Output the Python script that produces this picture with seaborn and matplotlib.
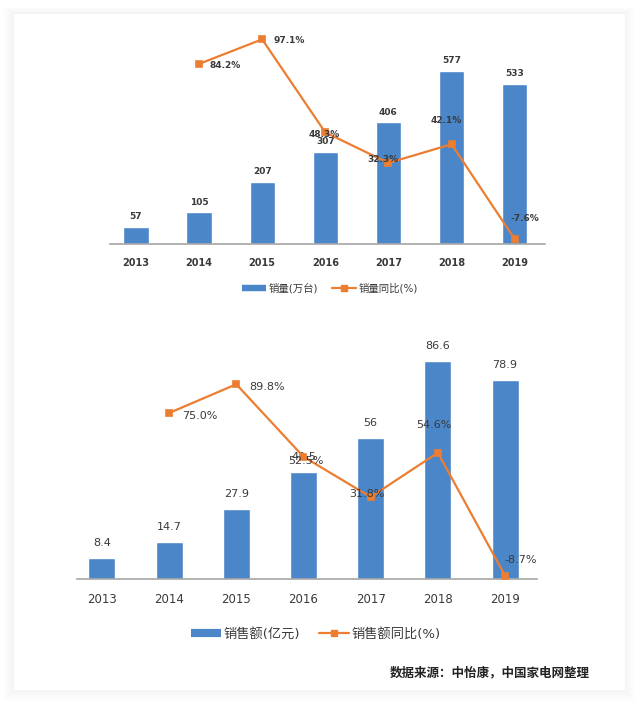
import matplotlib
matplotlib.use("Agg")
import matplotlib.pyplot as plt
import seaborn as sns
import pandas as pd
from matplotlib.lines import Line2D
from matplotlib.patches import Rectangle

# data
years = ["2013", "2014", "2015", "2016", "2017", "2018", "2019"]
volume = [57, 105, 207, 307, 406, 577, 533]
volume_yoy = [84.2, 97.1, 48.3, 32.3, 42.1, -7.6]
sales = [8.4, 14.7, 27.9, 42.5, 56, 86.6, 78.9]
sales_yoy = [75.0, 89.8, 52.5, 31.8, 54.6, -8.7]

# offsets (px) of the percent labels from their markers
volume_lbl_off = [(10, -2, "left"), (11, -1, "left"), (-1, -2, "center"),
                  (-5, 3, "center"), (-5, 24, "center"), (10, 21, "center")]
sales_lbl_off = [(13, -3, "left"), (12.7, -2.4, "left"), (2, -4, "center"),
                 (-4, 3, "center"), (-4, 28, "center"), (16, 16, "center")]

BLUE = "#4A86C8"
ORANGE = "#ED7D31"
TXT = "#3a3a3a"
GRID = "#a6a6a6"

sns.set_theme(style="white")
plt.rcParams["font.family"] = ["DejaVu Sans", "Noto Sans CJK SC"]

fig = plt.figure(figsize=(6.4, 7.04), dpi=100)
fig.patch.set_facecolor("white")

# card with soft shadow
W, H = 640, 704
def px_rect(x0, y0, x1, y1, **kw):
    return Rectangle((x0 / W, 1 - y1 / H), (x1 - x0) / W, (y1 - y0) / H,
                     transform=fig.transFigure, zorder=-5, **kw)

for i in range(10, 0, -1):
    fig.patches.append(px_rect(13 - i, 13 - i * 0.6, 625 + i, 690 + i * 1.2,
                               facecolor="#000000", alpha=0.004, edgecolor="none"))
fig.patches.append(px_rect(13, 13, 625, 690, facecolor="white", edgecolor="#f0f0f0", lw=0.5))


def px2pt(v):
    return v * 0.72


def draw_panel(rect, xlim, ylim1, ylim2, vals, yoy, offs, bar_label_px,
               fs, weight, bar_w, legend_labels, legend_y, leg_fs, leg_cx):
    ax = fig.add_axes(rect)
    ax.patch.set_alpha(0)
    df = pd.DataFrame({"year": years, "val": vals})
    sns.barplot(data=df, x="year", y="val", color=BLUE, width=bar_w,
                saturation=1, ax=ax)
    ax.set_xlim(*xlim)
    ax.set_ylim(*ylim1)
    ax.set_xlabel("")
    ax.set_ylabel("")
    ax.set_yticks([])
    for s in ["top", "left", "right"]:
        ax.spines[s].set_visible(False)
    ax.spines["bottom"].set_color(GRID)
    ax.spines["bottom"].set_linewidth(1.2)
    ax.set_xticks(range(len(years)))
    ax.set_xticklabels(years, fontsize=fs + 0.5, fontweight=weight, color=TXT)
    ax.tick_params(axis="x", which="major", length=0, pad=10)
    ax.set_xticks([i + 0.5 for i in range(len(years) - 1)], minor=True)
    ax.tick_params(axis="x", which="minor", length=3.5, width=1, color=GRID,
                   direction="out")
    for i, v in enumerate(vals):
        ax.annotate(f"{v:g}", (i, v), xytext=(0, px2pt(bar_label_px)),
                    textcoords="offset points", ha="center", va="center",
                    fontsize=fs, fontweight=weight, color=TXT)

    ax2 = ax.twinx()
    sns.pointplot(x=years[1:], y=yoy, order=years, color=ORANGE, markers="s",
                  markersize=4.5, linewidth=1.6, ax=ax2)
    ax2.set_xlim(*xlim)
    ax2.set_ylim(*ylim2)
    ax2.set_yticks([])
    ax2.set_ylabel("")
    for s in ax2.spines.values():
        s.set_visible(False)
    for i, (v, (dx, dy, ha)) in enumerate(zip(yoy, offs)):
        ax2.annotate(f"{v:.1f}%", (i + 1, v), xytext=(px2pt(dx), px2pt(dy)),
                     textcoords="offset points", ha=ha, va="center",
                     fontsize=fs, fontweight=weight, color=TXT)

    handles = [Line2D([0], [0], color=BLUE, lw=leg_fs * 0.62, solid_capstyle="butt"),
               Line2D([0], [0], color=ORANGE, lw=1.6, marker="s", markersize=5)]
    fig.legend(handles, legend_labels, loc="center", ncol=2, frameon=False,
               bbox_to_anchor=(leg_cx / W, 1 - legend_y / H), fontsize=leg_fs,
               handlelength=2.3, handletextpad=0.2, columnspacing=1.4,
               labelcolor=TXT)
    return ax


draw_panel([110 / W, 1 - 244 / H, 435 / W, 210.2 / H], (-0.41, 6.48),
           (0, 700), (-10.2, 100), volume, volume_yoy, volume_lbl_off, 10,
           6.5, "bold", 0.4, ["销量(万台)", "销量同比(%)"], 288, 7.5, 330)

draw_panel([77 / W, 1 - 579 / H, 460 / W, 251.7 / H], (-0.37, 6.475),
           (0, 100), (-10.4, 119.1), sales, sales_yoy, sales_lbl_off, 15,
           8, "normal", 0.4, ["销售额(亿元)", "销售额同比(%)"], 634, 9.5, 316)

fig.text(590 / W, 1 - 673 / H, "数据来源：中怡康，中国家电网整理", ha="right",
         va="center", fontsize=9, fontweight="bold", color="#222222",
         family=["Noto Sans CJK SC", "DejaVu Sans"])

fig.savefig("out.png", dpi=100, facecolor=fig.get_facecolor())
